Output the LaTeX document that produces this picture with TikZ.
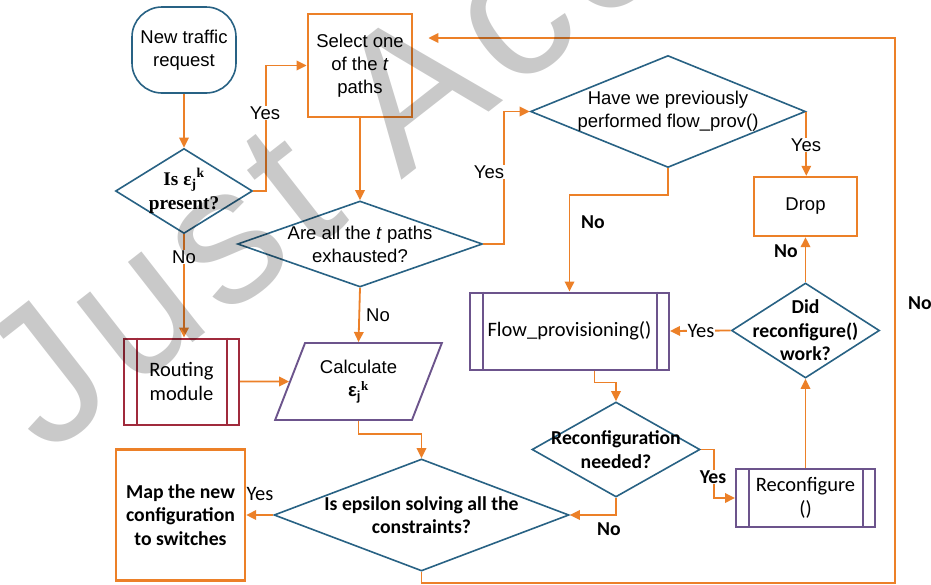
\documentclass[tikz,border=0pt]{standalone}
\usepackage{fontspec}
\setmainfont{Liberation Sans}
\newfontfamily\calfont{Carlito}
\newfontfamily\tmsfont{Liberation Serif}
\usetikzlibrary{shapes.geometric,arrows.meta}
\definecolor{dblue}{RGB}{40,98,132}
\definecolor{orng}{RGB}{236,128,40}
\definecolor{purp}{RGB}{108,84,140}
\definecolor{dred}{RGB}{160,42,60}
\begin{document}
\begin{tikzpicture}[x=1pt,y=-1pt,
  arialf/.style={font=\fontsize{18.5}{23}\selectfont},
  calf/.style={font=\calfont\fontsize{20.5}{24}\selectfont},
  calb/.style={font=\calfont\bfseries\fontsize{19.7}{23.5}\selectfont},
  term/.style={draw=dblue, line width=1.6pt, rounded corners=30pt, minimum width=104pt, minimum height=86pt, align=center, inner sep=0pt, arialf},
  obox/.style={draw=orng, line width=2.4pt, minimum width=104pt, minimum height=103pt, align=center, inner sep=0pt},
  dia/.style={diamond, draw=dblue, line width=1.6pt, inner sep=-18pt, align=center},
  ppbox/.style={draw, line width=2pt, align=center, inner sep=0pt},
  calcbox/.style={trapezium, trapezium left angle=63.1, trapezium right angle=116.9, trapezium stretches=true, draw=purp, line width=1.9pt, minimum width=167pt, minimum height=77pt, inner sep=0pt, align=center},
  arr/.style={draw=orng, line width=1.8pt, -{Triangle[length=10pt,width=9.5pt]}},
  lbl/.style={fill=white, inner sep=1pt}
]
\fill[white] (0,0) rectangle (931,584);
\path[use as bounding box] (0,0) rectangle (931,584);

% nodes
\node[term] (start) at (184,50) {New traffic\\request};
\node[obox, line width=2.8pt, arialf] (sel) at (360,65.5) {Select one\\of the \textit{t}\\paths};
\node[dia, aspect=1.61, minimum width=137pt, minimum height=85pt, font=\tmsfont\bfseries\fontsize{19.3}{24}\selectfont] (q1) at (184,191) {Is ε\textsubscript{j}\textsuperscript{k}\\present?};
\node[dia, aspect=2.85, minimum width=245pt, minimum height=86pt, arialf] (q2) at (360,244) {Are all the \textit{t} paths\\exhausted?};
\node[dia, aspect=2.46, minimum width=275pt, minimum height=112pt, arialf] (q3) at (668,111.5) {Have we previously\\performed flow\_prov()};
\node[obox, minimum width=103pt, minimum height=59pt, arialf] (drop) at (805.5,206.5) {Drop};
\node[dia, aspect=1.56, minimum width=148pt, minimum height=95pt, calb] (q4) at (805.5,330.5) {Did\\reconfigure()\\work?};
\node[ppbox, draw=purp, minimum width=199pt, minimum height=77pt, calf] (flow) at (569.5,331) {Flow\_provisioning()};
\node[ppbox, draw=dred, minimum width=115pt, minimum height=86pt, calf] (route) at (181.5,381.5) {Routing\\module};
\node[calcbox, arialf] (calc) at (358.5,381.5) {Calculate\\{\bfseries ε\textsubscript{j}\textsuperscript{\tmsfont k}}};
\node[dia, aspect=1.77, minimum width=168pt, minimum height=95pt, calb] (q5) at (616,449.5) {Reconfiguration\\needed?};
\node[ppbox, draw=purp, minimum width=139pt, minimum height=58pt, calf] (reconf) at (805.5,498) {Reconfigure\\()};
\node[obox, minimum width=129pt, minimum height=131pt, calb] (map) at (180.5,515) {Map the new\\configuration\\to switches};
\node[dia, aspect=2.63, minimum width=295pt, minimum height=112pt, calb] (q6) at (421.5,515) {Is epsilon solving all the\\constraints?};

% predefined-process inner lines
\foreach \n/\c in {flow/purp, route/dred, reconf/purp}{
  \draw[\c, line width=2pt] ([xshift=13.5pt]\n.north west) -- ([xshift=13.5pt]\n.south west);
  \draw[\c, line width=2pt] ([xshift=-13.5pt]\n.north east) -- ([xshift=-13.5pt]\n.south east);
}

% connectors
\draw[arr] (start) -- (q1);
\draw[arr] (q1.east) -- ++(13,0) |- (sel.west);
\draw[arr] (q1.south) -- (q1.south |- route.north);
\draw[arr] (sel) -- (q2);
\draw[arr] (q2.east) -- ++(21,0) |- (q3.west);
\draw[arr] (q2.south) -- (calc.north);
\draw[arr] (route) -- (calc);
\draw[arr] (calc.south) -- ++(0,13) -| (q6.north);
\draw[arr] (q6.west) -- (map.east);
\draw[arr] (q3.south) -- ++(0,27) -| (flow.north);
\draw[arr] (q3.east) -- (q3.east |- drop.north);
\draw[arr] (q4) -- (drop);
\draw[arr] (q4.west) -- (flow.east);
\draw[arr] ([xshift=25pt]flow.south) -- ++(0,12) -| (q5.north);
\draw[arr] (q5.east) -- ++(13,0) |- (reconf.west);
\draw[arr] (q5.south) |- (q6.east);
\draw[arr] (reconf) -- (q4);
\draw[arr, shorten >=15pt] (q6.south) -- ++(0,11) -| (895,38) -- ([yshift=27.5pt]sel.east);

% labels
\node[lbl, arialf] (l1) at (265,113) {Yes};
\node[lbl, arialf] (l2) at (184,257) {No};
\node[lbl, arialf] (l3) at (489,172) {Yes};
\node[lbl, arialf] (l4) at (378,315) {No};
\node[lbl, calf] (l5) at (260,494) {Yes};
\node[lbl, calb] (l6) at (593,222) {No};
\node[lbl, arialf] (l7) at (806,145) {Yes};
\node[lbl, calb] (l8) at (786,251) {No};
\node[lbl, calf] (l9) at (701,331) {Yes};
\node[lbl, calb] (l10) at (713,477) {Yes};
\node[lbl, calb] (l11) at (609,529) {No};
\node[calb, anchor=west, inner sep=0pt] (l12) at (908,303) {No};

% watermark
\node[rotate=38, anchor=base west, text=black, opacity=0.21, inner sep=0pt, font=\fontsize{195}{195}\selectfont\addfontfeature{LetterSpace=5.0}] (wm) at (46,458) {Just Accepted};
\end{tikzpicture}
\end{document}
